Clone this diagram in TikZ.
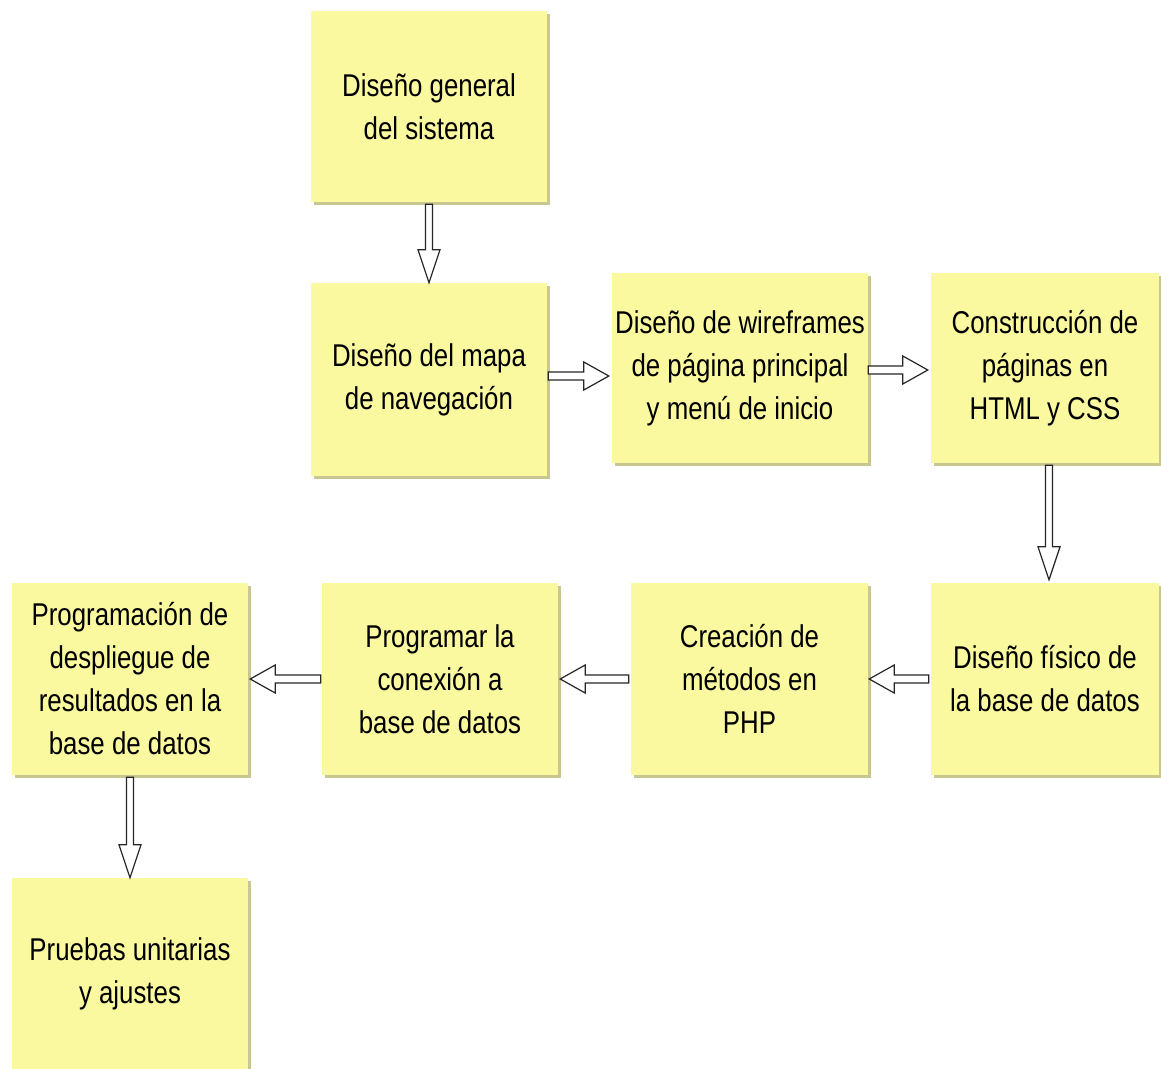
\documentclass[tikz,border=0pt]{standalone}
\usepackage{fontspec}
\setmainfont[FakeStretch=0.82]{Liberation Sans}
\usetikzlibrary{calc,shadows}

\definecolor{boxfill}{RGB}{251,249,160}
\definecolor{boxshade}{RGB}{200,198,145}

\tikzset{
  task/.style={rectangle, fill=boxfill, draw=none, align=center,
    inner sep=0pt, text=black,
    font=\fontsize{31.5}{43}\selectfont,
    drop shadow={shadow xshift=2.5pt, shadow yshift=-2.5pt, fill=boxshade, opacity=1}},
  hollow/.style={draw=black!85, fill=white, line width=1.2pt, line join=miter}
}

% hollow block arrows between two anchors (start, tip)
\newcommand\hollowdown[2]{%
  \draw[hollow] let \p1=(#1), \p2=(#2) in
    (\x1-3.5pt,\y1) -- (\x1-3.5pt,\y2+33pt) -- (\x1-11pt,\y2+33pt) -- (\x1,\y2)
    -- (\x1+11pt,\y2+33pt) -- (\x1+3.5pt,\y2+33pt) -- (\x1+3.5pt,\y1) -- cycle;}
\newcommand\hollowright[2]{%
  \draw[hollow] let \p1=(#1), \p2=(#2) in
    (\x1,\y1+4pt) -- (\x2-25pt,\y1+4pt) -- (\x2-25pt,\y1+14pt) -- (\x2,\y1)
    -- (\x2-25pt,\y1-14pt) -- (\x2-25pt,\y1-4pt) -- (\x1,\y1-4pt) -- cycle;}
\newcommand\hollowleft[2]{%
  \draw[hollow] let \p1=(#1), \p2=(#2) in
    (\x1,\y1+4pt) -- (\x2+25pt,\y1+4pt) -- (\x2+25pt,\y1+14pt) -- (\x2,\y1)
    -- (\x2+25pt,\y1-14pt) -- (\x2+25pt,\y1-4pt) -- (\x1,\y1-4pt) -- cycle;}

\begin{document}
\begin{tikzpicture}[x=1pt, y=1pt]
  \useasboundingbox[fill=white] (0,0) rectangle (1161,-1068);

  % top row
  \node[task, minimum width=236pt, minimum height=191pt] (gen)  at (429,-106.5) {Diseño general\\del sistema};
  \node[task, minimum width=236pt, minimum height=193pt] (mapa) at (429,-379.5) {Diseño del mapa\\de navegación};
  \node[task, minimum width=256pt, minimum height=190pt] (wire) at (740,-368)   {Diseño de wireframes\\de página principal\\y menú de inicio};
  \node[task, minimum width=228pt, minimum height=190pt] (html) at (1045,-368)  {Construcción de\\páginas en\\HTML y CSS};

  % middle row
  \node[task, minimum width=228pt, minimum height=192pt] (bdf)  at (1045,-679)  {Diseño físico de\\la base de datos};
  \node[task, minimum width=237pt, minimum height=192pt] (php)  at (749.5,-679) {Creación de\\métodos en\\PHP};
  \node[task, minimum width=236pt, minimum height=192pt] (con)  at (440,-679)   {Programar la\\conexión a\\base de datos};
  \node[task, minimum width=236pt, minimum height=192pt] (desp) at (130,-679)   {Programación de\\despliegue de\\resultados en la\\base de datos};

  % bottom
  \node[task, minimum width=236pt, minimum height=192pt] (prue) at (130,-974)   {Pruebas unitarias\\y ajustes};

  % connectors
  \hollowdown{$(gen.south)+(0,-2pt)$}{mapa.north}
  \hollowright{$(mapa.east |- 0,-376)+(1pt,0)$}{$(wire.west)+(-3pt,-8pt)$}
  \hollowright{$(wire.east |- 0,-370)$}{$(html.west)+(-3pt,0)$}
  \hollowdown{$(html.south)+(4pt,-2pt)$}{$(bdf.north)+(4pt,3pt)$}
  \hollowleft{$(bdf.west)+(-2pt,0)$}{$(php.east)+(1pt,0)$}
  \hollowleft{$(php.west)+(-2pt,0)$}{$(con.east)+(2pt,0)$}
  \hollowleft{$(con.west)+(-1pt,0)$}{$(desp.east)+(2pt,0)$}
  \hollowdown{$(desp.south)+(0,-2pt)$}{prue.north}
\end{tikzpicture}
\end{document}
